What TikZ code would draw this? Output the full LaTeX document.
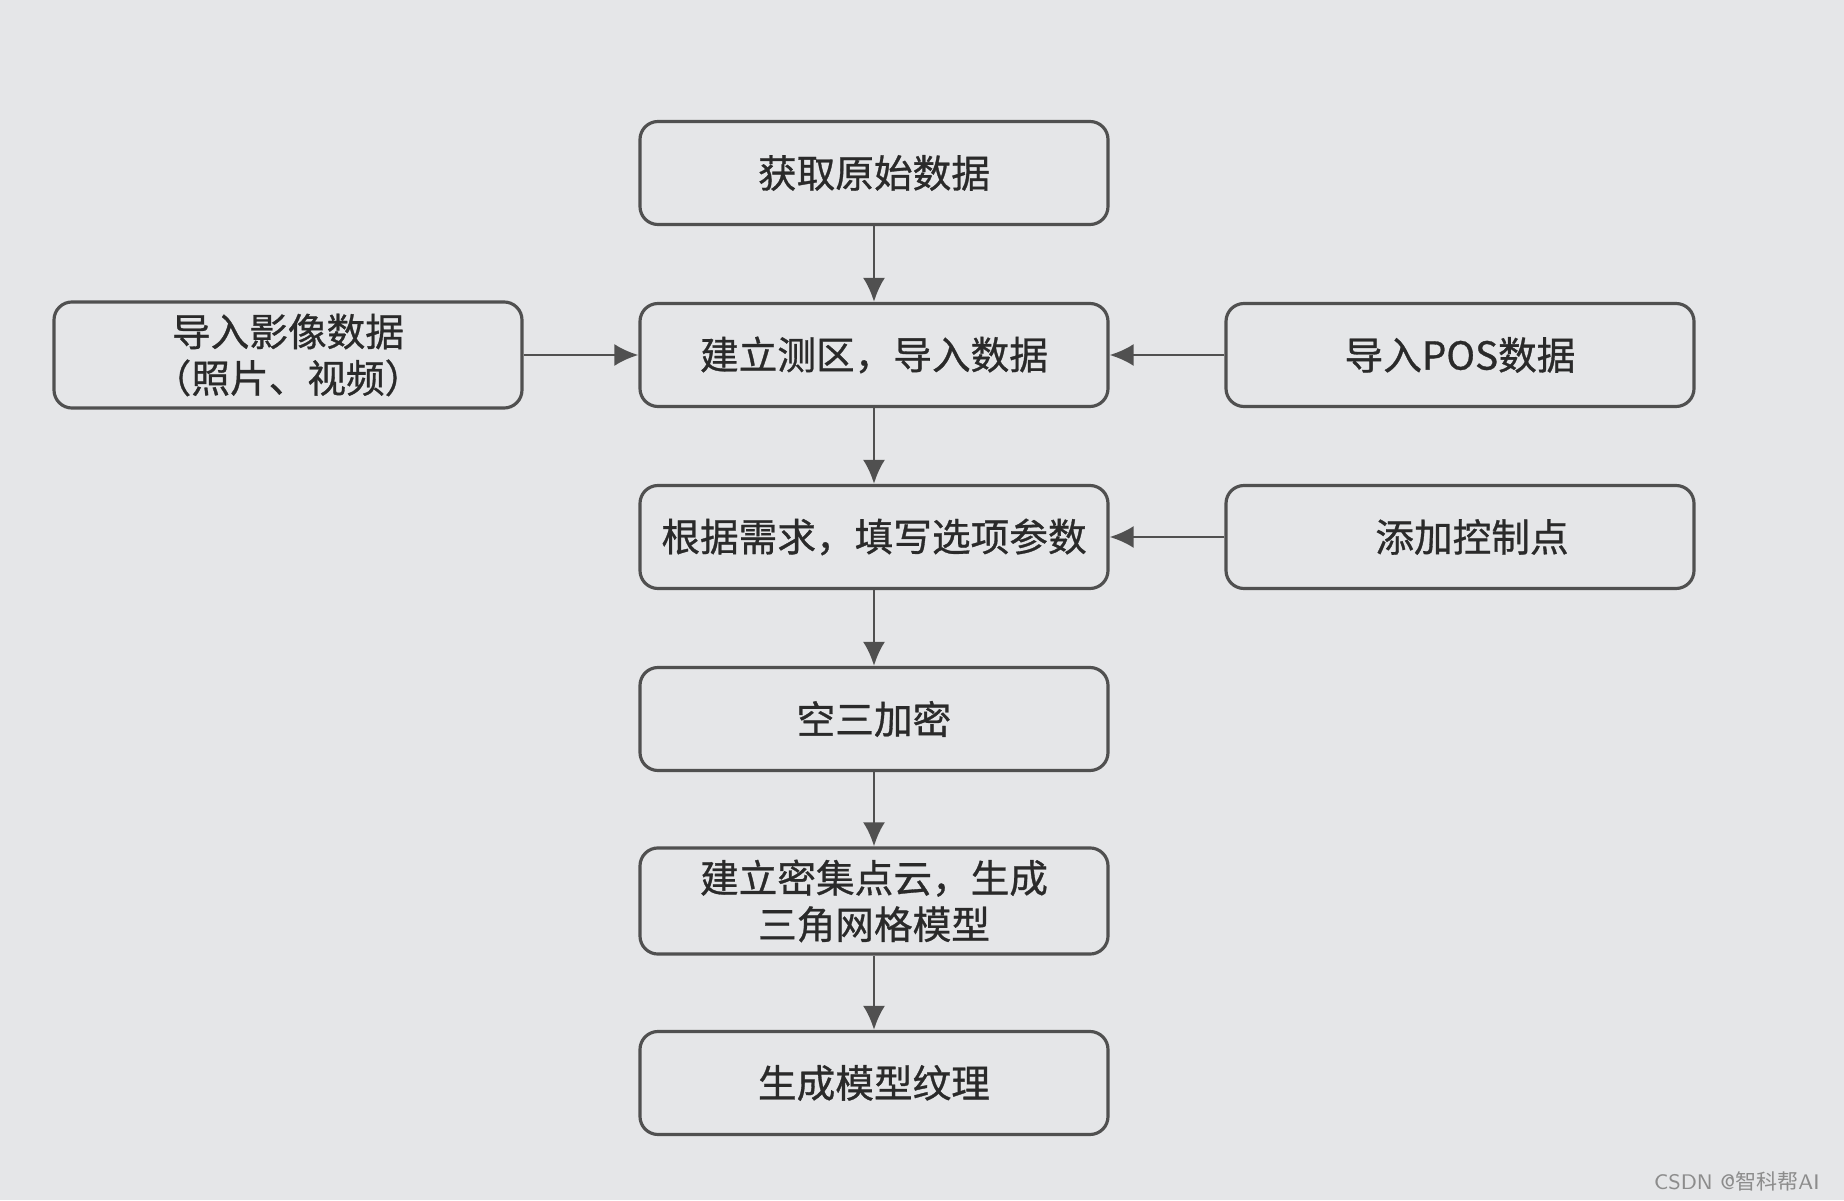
\documentclass[tikz,border=0pt]{standalone}
\usepackage{fontspec}
\newfontfamily\cjk[FakeBold=0.8]{Noto Sans CJK SC}
\newfontfamily\cjkthin{Noto Sans CJK SC}
\usetikzlibrary{positioning, arrows.meta}
\definecolor{bg}{HTML}{E5E6E8}
\definecolor{edge}{HTML}{505050}
\definecolor{ink}{HTML}{2A2A2A}

\begin{document}
\begin{tikzpicture}
    [
        node distance=18.2mm and 58.6mm, on grid,
        step_box/.style={rectangle, rounded corners=1.8mm, draw=edge, fill=bg, line width=0.9pt, minimum width=46.8mm, minimum height=10.3mm, align=center, text=ink, font=\cjk\fontsize{11}{13.2}\selectfont},
        flow_arrow/.style={-{Latex[length=2.4mm, width=2.2mm]}, line width=0.8pt, color=edge},
    ]
        \fill[bg] (0,0) rectangle (18.44,12) ;
        \useasboundingbox (0,0) rectangle (18.44,12) ;
        \node[step_box] (raw) at (8.74,10.27) {获取原始数据} ;
        \node[step_box] (area) [below = of raw] {建立测区，导入数据} ;
        \node[step_box] (param) [below = of area] {根据需求，填写选项参数} ;
        \node[step_box] (aero) [below = of param] {空三加密} ;
        \node[step_box] (cloud) [below = of aero] {建立密集点云，生成\\三角网格模型} ;
        \node[step_box] (texture) [below = of cloud] {生成模型纹理} ;
        \node[step_box] (images) [left = of area] {导入影像数据\\（照片、视频）} ;
        \node[step_box] (pos) [right = of area] {导入POS数据} ;
        \node[step_box] (gcp) [right = of param] {\hspace*{2.4mm}添加控制点} ;
        \node[anchor=east, text=black!45, font=\sffamily\fontsize{6}{7}\selectfont] (mark) at (18.32,0.19) {CSDN @{\cjkthin 智科帮}AI} ;
        \draw[flow_arrow] (raw) -- (area) ;
        \draw[flow_arrow] (area) -- (param) ;
        \draw[flow_arrow] (param) -- (aero) ;
        \draw[flow_arrow] (aero) -- (cloud) ;
        \draw[flow_arrow] (cloud) -- (texture) ;
        \draw[flow_arrow] (images) -- (area) ;
        \draw[flow_arrow] (pos) -- (area) ;
        \draw[flow_arrow] (gcp) -- (param) ;
    \end{tikzpicture}
\end{document}
